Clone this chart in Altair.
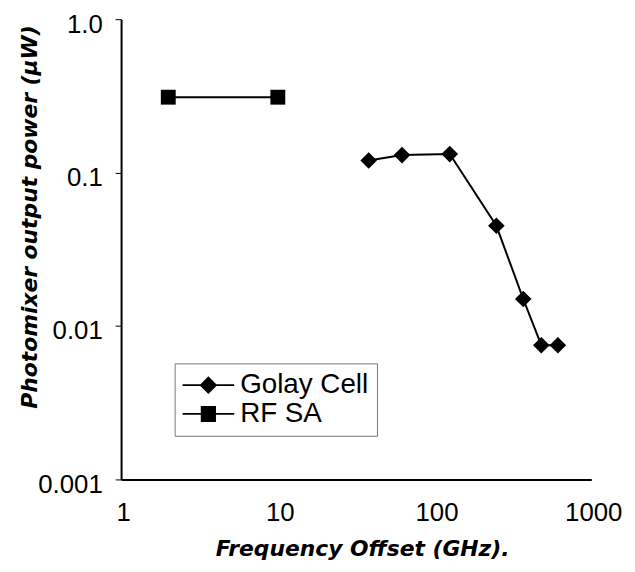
import altair as alt
import pandas as pd

# Data
golay_freq = [38, 62, 125, 248, 368, 480, 612]
golay_power = [0.12, 0.13, 0.132, 0.045, 0.015, 0.0075, 0.0075]
rf_freq = [2, 10]
rf_power = [0.31, 0.31]
series_names = ["Golay Cell", "RF SA"]
x_ticks = [1, 10, 100, 1000]
y_ticks = [0.001, 0.01, 0.1, 1.0]

df = pd.DataFrame(
    {"freq": golay_freq + rf_freq,
     "power": golay_power + rf_power,
     "series": [series_names[0]] * len(golay_freq) + [series_names[1]] * len(rf_freq)}
)

FONT = "Liberation Sans"
TFONT = "DejaVu Sans"

xs = alt.Scale(type="log", domain=[1, 1000], nice=False)
ys = alt.Scale(type="log", domain=[0.001, 1.0], nice=False)

x_enc = alt.X(
    "freq:Q", scale=xs,
    axis=alt.Axis(
        values=x_ticks, format="d", title="Frequency Offset (GHz).",
        titleFont=TFONT, titleFontSize=22, titleFontWeight="bold", titleFontStyle="italic",
        titleX=243, titleY=77, titleBaseline="alphabetic", titleAlign="center",
        labelFont=FONT, labelFontSize=26, labelColor="black", labelPadding=20, labelOffset=2,
        ticks=False, grid=False, domainColor="black", domainWidth=2, labelFlush=False,
        titleColor="black",
    ),
)
y_enc = alt.Y(
    "power:Q", scale=ys,
    axis=alt.Axis(
        values=y_ticks, format="~g", labelExpr="datum.value == 1 ? '1.0' : datum.label",
        title="Photomixer output power (\u00b5W)",
        titleFont=TFONT, titleFontSize=22, titleFontWeight="bold", titleFontStyle="italic",
        titleX=-92, titleY=199, titleBaseline="middle", titleAlign="center", titleAngle=-90,
        labelFont=FONT, labelFontSize=26, labelColor="black", labelPadding=13, labelOffset=5,
        tickSize=6, tickColor="black", tickWidth=1, grid=False, domainColor="black",
        domainWidth=2, labelFlush=False, titleColor="black",
    ),
)

base = alt.Chart(df)

lines = base.mark_line(color="black", strokeWidth=2).encode(
    x=x_enc, y=y_enc, detail="series:N"
)

golay_pts = base.transform_filter(alt.datum.series == series_names[0]).mark_point(
    shape="diamond", filled=True, color="black", opacity=1, size=280
).encode(x="freq:Q", y="power:Q")

rf_pts = base.transform_filter(alt.datum.series == series_names[1]).mark_point(
    shape="square", filled=True, color="black", opacity=1, size=225
).encode(x="freq:Q", y="power:Q")

# legend symbols: a line segment with the marker in the middle
golay_path = "M-3.06,-0.1L3.06,-0.1L3.06,0.1L-3.06,0.1Z M0,-1.05L1.05,0L0,1.05L-1.05,0Z"
rf_path = "M-3.06,-0.1L3.06,-0.1L3.06,0.1L-3.06,0.1Z M-0.9,-0.95L0.9,-0.95L0.9,0.95L-0.9,0.95Z"

legend_layer = base.mark_point(filled=True, color="black", opacity=0, size=289).encode(
    x="freq:Q", y="power:Q",
    shape=alt.Shape(
        "series:N",
        scale=alt.Scale(domain=series_names, range=[golay_path, rf_path]),
        legend=alt.Legend(
            title=None, orient="none", legendX=54, legendY=347,
            strokeColor="#777", padding=8, fillColor="white",
            labelFont=FONT, labelFontSize=28, labelColor="black",
            symbolSize=289, symbolOffset=12, labelOffset=18, rowPadding=1,
            symbolFillColor="black", symbolStrokeColor="black", symbolStrokeWidth=0,
            symbolOpacity=1,
        ),
    ),
)

chart = (
    alt.layer(lines, golay_pts, rf_pts, legend_layer)
    .properties(
        width=474, height=464, autosize="none",
        padding={"left": 114, "top": 9, "right": 36, "bottom": 83},
        background="white",
    )
    .configure_view(stroke=None)
)

chart.save("out.html", embed_options={"renderer": "svg", "actions": False})
